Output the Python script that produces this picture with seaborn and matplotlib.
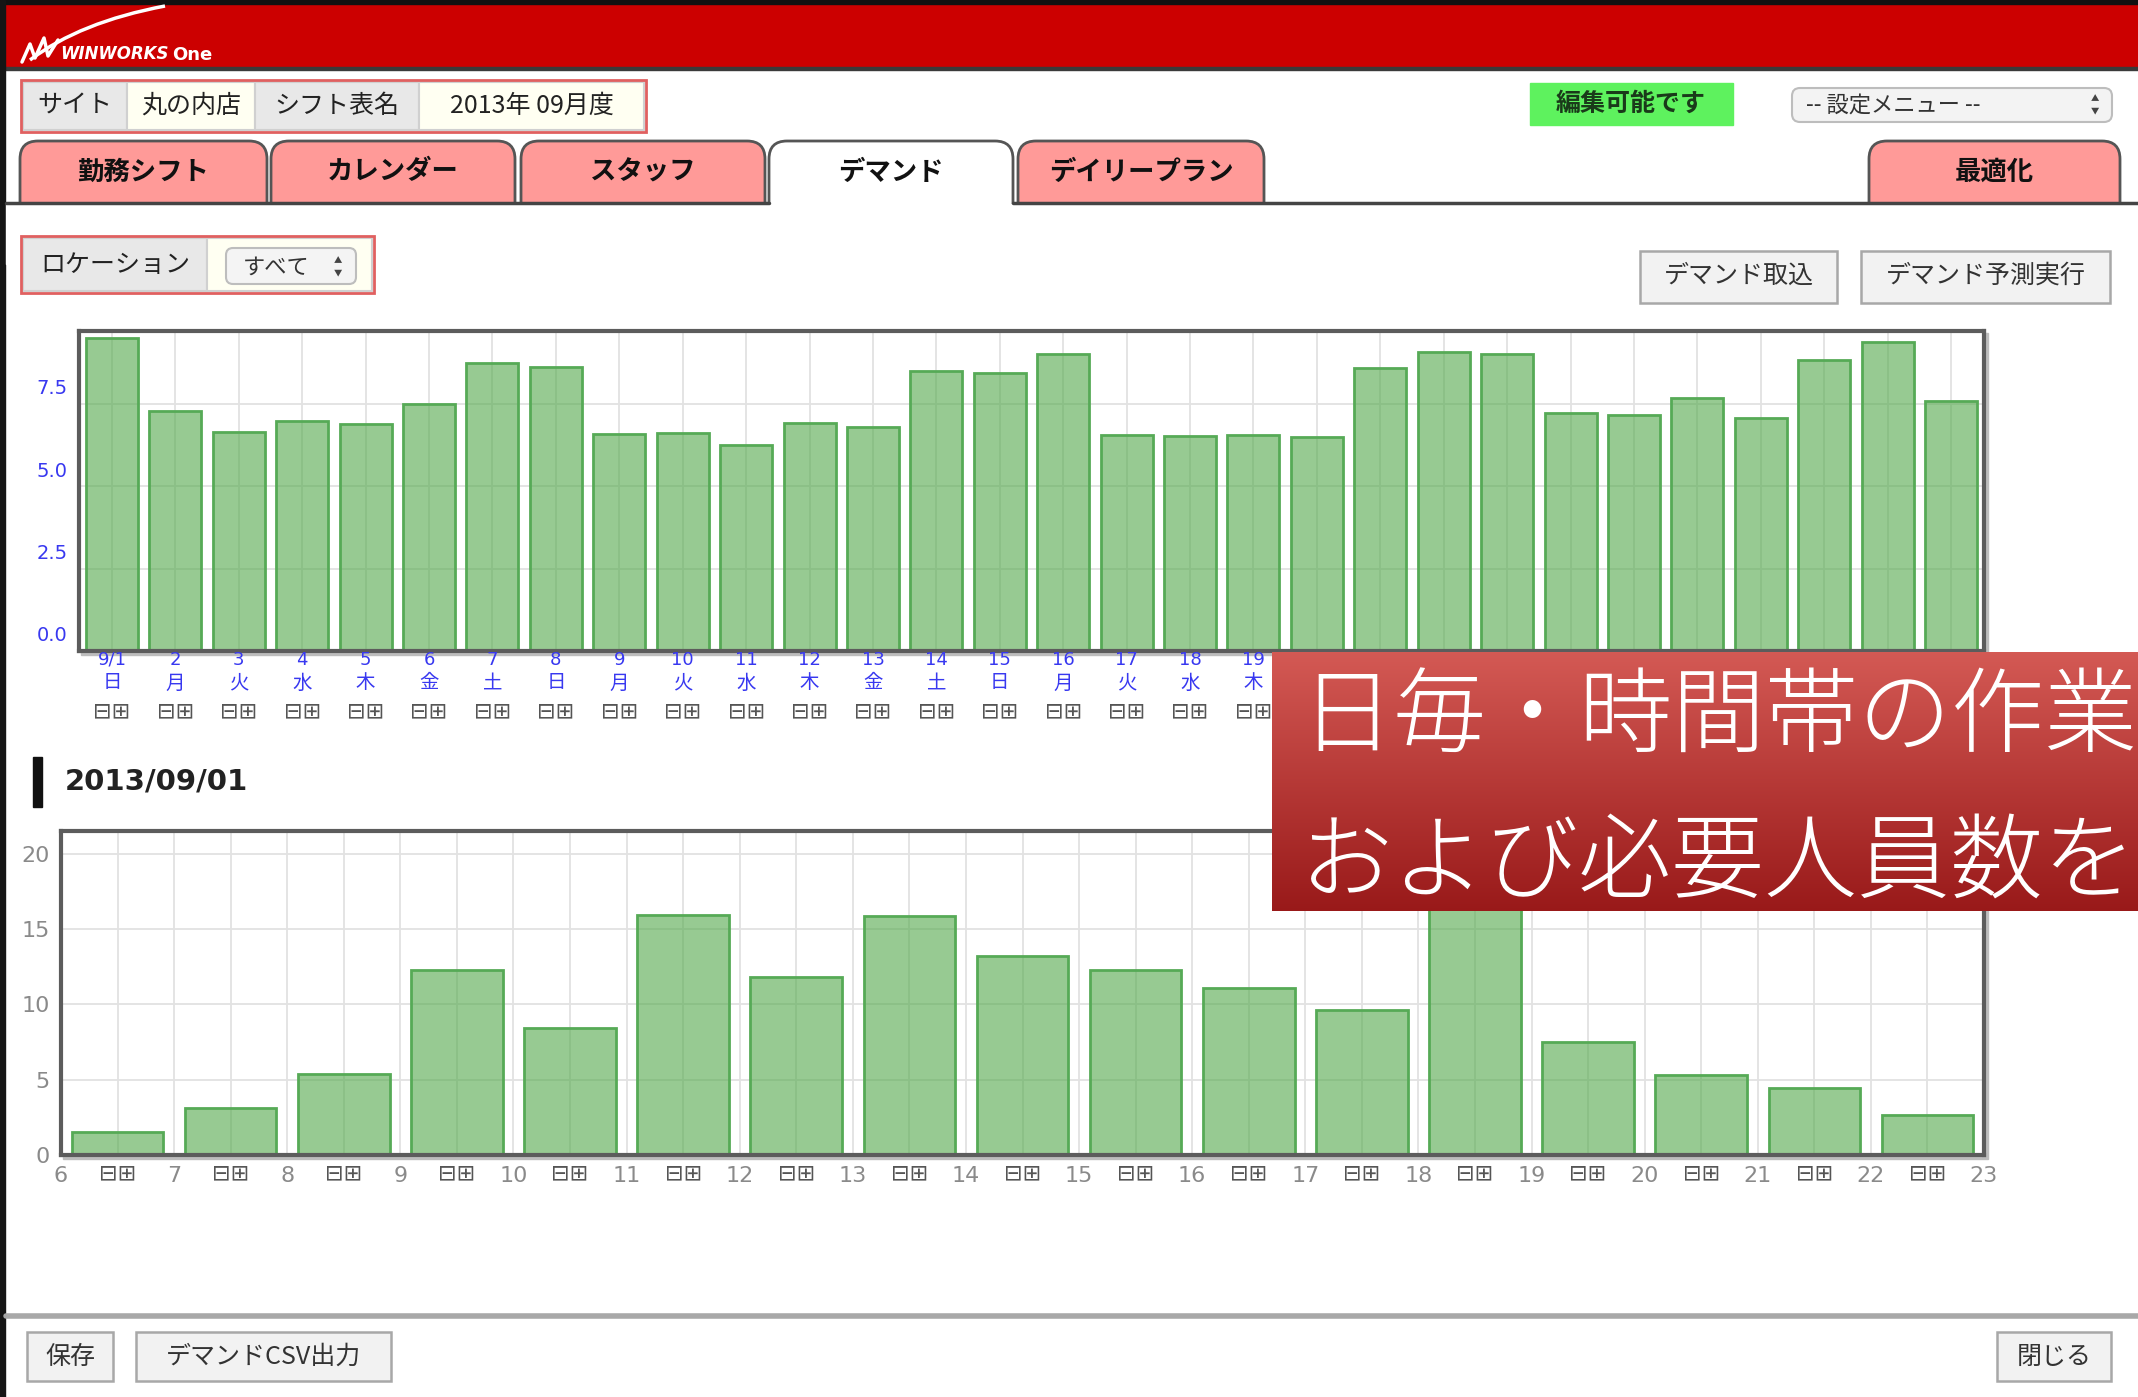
import numpy as np
import pandas as pd
import matplotlib
matplotlib.use("Agg")
import matplotlib.pyplot as plt
import matplotlib.patches as mpatches
import matplotlib.transforms as mtransforms
from matplotlib.path import Path
import seaborn as sns

# daily demand for September 2013
day_labels = ["9/1", "2", "3", "4", "5", "6", "7", "8", "9", "10",
              "11", "12", "13", "14", "15", "16", "17", "18", "19", "20",
              "21", "22", "23", "24", "25", "26", "27", "28", "29", "30"]
weekdays = ["日", "月", "火", "水", "木", "金", "土", "日", "月", "火",
            "水", "木", "金", "土", "日", "月", "火", "水", "木", "金",
            "土", "日", "月", "火", "水", "木", "金", "土", "日", "月"]
daily_demand = [9.5, 7.27, 6.63, 6.97, 6.87, 7.48, 8.72, 8.6, 6.57, 6.6,
                6.24, 6.9, 6.79, 8.48, 8.42, 9.0, 6.55, 6.52, 6.55, 6.48,
                8.58, 9.06, 9.0, 7.2, 7.15, 7.67, 7.06, 8.82, 9.36, 7.58]
daily_ticks = [0, 2.5, 5, 7.5]

# hourly demand for 2013/09/01 (slot starting at each hour)
hours = [6, 7, 8, 9, 10, 11, 12, 13, 14, 15, 16, 17, 18, 19, 20, 21, 22, 23]
hourly_demand = [1.5, 3.1, 5.4, 12.3, 8.4, 15.9, 11.8, 15.85, 13.2,
                 12.25, 11.1, 9.6, 17.0, 7.5, 5.3, 4.45, 2.65]
hourly_ticks = [0, 5, 10, 15, 20]

caption_lines = ["日毎・時間帯の作業", "および必要人員数を"]

W, H = 2138, 1397
BAR_FACE = (0.32, 0.66, 0.29, 0.6)
BAR_EDGE = "#56aa56"
BLUE = "#3838f0"

sns.set_theme(style="white")
plt.rcParams["font.family"] = ["Noto Sans CJK JP", "DejaVu Sans"]

fig = plt.figure(figsize=(W / 100, H / 100), dpi=100)
fig.patch.set_facecolor("white")


def px_axes(x0, y0, x1, y1, z=1):
    return fig.add_axes([x0 / W, 1 - y1 / H, (x1 - x0) / W, (y1 - y0) / H], zorder=z)


def pixel_layer(z):
    a = fig.add_axes([0, 0, 1, 1], zorder=z)
    a.set_xlim(0, W)
    a.set_ylim(H, 0)
    a.axis("off")
    a.patch.set_alpha(0)
    return a


bg = pixel_layer(0)

# page chrome
bg.add_patch(mpatches.Rectangle((0, 0), W, 68, color="#cc0000"))
bg.add_patch(mpatches.Rectangle((0, 0), W, 4, color="#111111"))
bg.add_patch(mpatches.Rectangle((0, 67), W, 3, color="#3a3a3a"))
bg.add_patch(mpatches.Rectangle((0, 0), 5, H, color="#151515"))

# logo
swoosh = Path([(30, 60), (80, 22), (165, 6)], [Path.MOVETO, Path.CURVE3, Path.CURVE3])
bg.add_patch(mpatches.PathPatch(swoosh, fc="none", ec="white", lw=2.5))
bg.plot([22, 30, 35, 44, 48, 58], [62, 44, 58, 38, 56, 40], color="white", lw=2.5)
bg.text(60, 54, "WINWORKS", color="white", fontsize=12, fontweight="bold",
        style="italic", family=["DejaVu Sans"], va="center")
bg.text(172, 55, "One", color="white", fontsize=13, fontweight="bold",
        family=["DejaVu Sans"], va="center")

# site / shift info row
info_cells = [("サイト", 23, 127, "#e8e8e8"), ("丸の内店", 127, 255, "#fffff2"),
              ("シフト表名", 255, 419, "#e8e8e8"), ("2013年 09月度", 419, 644, "#fffff2")]
for label, x0, x1, fc in info_cells:
    bg.add_patch(mpatches.Rectangle((x0, 82), x1 - x0, 48, fc=fc, ec="#d0d0d0", lw=1.5))
    bg.text((x0 + x1) / 2, 106, label, ha="center", va="center", fontsize=18, color="#222222")
bg.add_patch(mpatches.Rectangle((21, 80), 625, 52, fc="none", ec="#e06060", lw=2))

bg.add_patch(mpatches.Rectangle((1530, 83), 203, 42, color="#5ef25e"))
bg.text(1631, 104, "編集可能です", ha="center", va="center", fontsize=18,
        fontweight="bold", color="#1a3a1a")

bg.add_patch(mpatches.FancyBboxPatch((1792, 88), 320, 34, boxstyle="round,pad=0,rounding_size=8",
                                     fc="#f3f3f3", ec="#bdbdbd", lw=1.5))
bg.text(1806, 105, "-- 設定メニュー --", va="center", fontsize=16, color="#333333")
bg.text(2095, 99, "▲", ha="center", va="center", fontsize=6, color="#444444")
bg.text(2095, 111, "▼", ha="center", va="center", fontsize=6, color="#444444")

# tabs
tabs = [("勤務シフト", 20, 267), ("カレンダー", 271, 515), ("スタッフ", 521, 765),
        ("デマンド", 769, 1013), ("デイリープラン", 1018, 1264), ("最適化", 1869, 2120)]
for label, x0, x1 in tabs:
    active = label == "デマンド"
    bg.add_patch(mpatches.FancyBboxPatch((x0, 141), x1 - x0, 90,
                                         boxstyle="round,pad=0,rounding_size=18",
                                         fc="white" if active else "#ff9a98", ec="#555555", lw=2))
    bg.text((x0 + x1) / 2, 172, label, ha="center", va="center", fontsize=19,
            fontweight="bold", color="#111111")
bg.add_patch(mpatches.Rectangle((6, 204), W, 60, color="white", zorder=3))
bg.plot([6, 769], [203, 203], color="#444444", lw=2.5, zorder=4)
bg.plot([1013, W], [203, 203], color="#444444", lw=2.5, zorder=4)

# location selector
bg.add_patch(mpatches.Rectangle((23, 238), 184, 53, fc="#e8e8e8", ec="#d0d0d0", lw=1.5, zorder=4))
bg.add_patch(mpatches.Rectangle((207, 238), 165, 53, fc="#fffff2", ec="#d0d0d0", lw=1.5, zorder=4))
bg.add_patch(mpatches.Rectangle((21, 236), 353, 57, fc="none", ec="#e06060", lw=2, zorder=4))
bg.text(115, 265, "ロケーション", ha="center", va="center", fontsize=18, color="#222222", zorder=5)
bg.add_patch(mpatches.FancyBboxPatch((226, 248), 130, 36, boxstyle="round,pad=0,rounding_size=7",
                                     fc="#f4f4f4", ec="#bdbdbd", lw=1.5, zorder=5))
bg.text(243, 267, "すべて", va="center", fontsize=16, color="#333333", zorder=6)
bg.text(338, 261, "▲", ha="center", va="center", fontsize=6, color="#444444", zorder=6)
bg.text(338, 273, "▼", ha="center", va="center", fontsize=6, color="#444444", zorder=6)

for label, x0, x1 in [("デマンド取込", 1640, 1837), ("デマンド予測実行", 1861, 2110)]:
    bg.add_patch(mpatches.Rectangle((x0, 251), x1 - x0, 52, fc="#f2f2f2", ec="#a8a8a8", lw=1.8, zorder=4))
    bg.text((x0 + x1) / 2, 276, label, ha="center", va="center", fontsize=18, color="#333333", zorder=5)

# frame shadows
bg.add_patch(mpatches.Rectangle((81, 333), 1907, 322, color="#bdbdbd", zorder=4))
bg.add_patch(mpatches.Rectangle((63, 833), 1925, 326, color="#bdbdbd", zorder=4))

# date heading
bg.add_patch(mpatches.Rectangle((33, 757), 9, 50, color="#111111", zorder=4))
bg.text(65, 781, "2013/09/01", va="center", fontsize=21, fontweight="bold",
        family=["DejaVu Sans"], color="#222222", zorder=5)

# footer
bg.plot([6, W], [1316, 1316], color="#a8a8a8", lw=4, zorder=4)
for label, x0, x1 in [("保存", 27, 113), ("デマンドCSV出力", 136, 391), ("閉じる", 1997, 2111)]:
    bg.add_patch(mpatches.Rectangle((x0, 1332), x1 - x0, 49, fc="#f2f2f2", ec="#a8a8a8", lw=1.8, zorder=4))
    bg.text((x0 + x1) / 2, 1357, label, ha="center", va="center", fontsize=18, color="#333333", zorder=5)


def style_bars(ax):
    for p in ax.patches:
        p.set_facecolor(BAR_FACE)
        p.set_edgecolor(BAR_EDGE)
        p.set_linewidth(2)


def below(ax, dy_px):
    return (mtransforms.blended_transform_factory(ax.transData, ax.transAxes)
            + mtransforms.ScaledTranslation(0, -dy_px / 100, fig.dpi_scale_trans))


# monthly (daily) demand chart
ax1 = px_axes(79, 331, 1984, 651, z=2)
df_day = pd.DataFrame({"day": day_labels, "demand": daily_demand})
sns.barplot(data=df_day, x="day", y="demand", color="#52a849", saturation=1,
            width=0.82, ax=ax1)
style_bars(ax1)
ax1.set_xlim(-0.52, len(day_labels) - 0.48)
ax1.set_ylim(0, 9.7)
ax1.set_axisbelow(True)
ax1.grid(True, color="#e2e2e2", lw=1.3)
ax1.set_yticks(daily_ticks)
ax1.set_yticklabels([])
# value labels sit a little above their grid lines
ylab_tr = (mtransforms.blended_transform_factory(ax1.transAxes, ax1.transData)
           + mtransforms.ScaledTranslation(-0.11, 0.15, fig.dpi_scale_trans))
for v in daily_ticks:
    ax1.text(0, v, f"{v:.1f}", transform=ylab_tr, ha="right", va="center",
             fontsize=14, color=BLUE, family=["DejaVu Sans"], clip_on=False)
ax1.set_xticks(range(len(day_labels)))
ax1.set_xticklabels([])
for i, (d, w) in enumerate(zip(day_labels, weekdays)):
    ax1.text(i, 0, d, transform=below(ax1, 9), ha="center", va="center",
             fontsize=13, color=BLUE, family=["DejaVu Sans"], clip_on=False)
    ax1.text(i, 0, w, transform=below(ax1, 32), ha="center", va="center",
             fontsize=14, color=BLUE, clip_on=False)
    ax1.text(i, 0, "⊟⊞", transform=below(ax1, 60), ha="center", va="center",
             fontsize=16, color="#555555", family=["DejaVu Sans"], clip_on=False)
ax1.tick_params(length=0, pad=9)
ax1.set_xlabel("")
ax1.set_ylabel("")
for s in ax1.spines.values():
    s.set_color("#5c5c5c")
    s.set_linewidth(3)

# hourly demand chart
ax2 = px_axes(61, 831, 1984, 1155, z=2)
df_hour = pd.DataFrame({"slot": [str(h) for h in hours[:-1]], "demand": hourly_demand})
sns.barplot(data=df_hour, x="slot", y="demand", color="#52a849", saturation=1,
            width=0.81, ax=ax2)
style_bars(ax2)
n_slots = len(hourly_demand)
ax2.set_xlim(-0.5, n_slots - 0.5)
ax2.set_ylim(0, 21.5)
ax2.set_axisbelow(True)
ax2.set_xticks(np.arange(len(hours)) - 0.5)
ax2.set_xticklabels([str(h) for h in hours], color="#8a8a8a", fontsize=16,
                    family=["DejaVu Sans"])
ax2.set_xticks(np.arange(n_slots), minor=True)
ax2.grid(True, which="both", axis="x", color="#e2e2e2", lw=1.3)
ax2.grid(True, which="major", axis="y", color="#e2e2e2", lw=1.3)
ax2.set_yticks(hourly_ticks)
ax2.set_yticklabels([str(v) for v in hourly_ticks], color="#8a8a8a", fontsize=16,
                    family=["DejaVu Sans"])
for i in range(n_slots):
    ax2.text(i, 0, "⊟⊞", transform=below(ax2, 18), ha="center", va="center",
             fontsize=16, color="#555555", family=["DejaVu Sans"], clip_on=False)
ax2.tick_params(which="both", length=0, pad=8)
ax2.set_xlabel("")
ax2.set_ylabel("")
for s in ax2.spines.values():
    s.set_color("#5c5c5c")
    s.set_linewidth(3)

# red caption overlay
ov = pixel_layer(5)
grad = np.linspace(0, 1, 256)[:, None, None]
top_c = np.array([0.83, 0.35, 0.33])
bot_c = np.array([0.60, 0.10, 0.10])
ov.imshow(top_c + (bot_c - top_c) * grad, extent=(1272, W, 911, 652), aspect="auto",
          origin="upper", interpolation="bilinear")
ov.set_xlim(0, W)
ov.set_ylim(H, 0)
ov.text(1300, 719, caption_lines[0], color="white", fontsize=67, fontweight="light",
        va="center", ha="left")
ov.text(1300, 864, caption_lines[1], color="white", fontsize=67, fontweight="light",
        va="center", ha="left")

fig.savefig("out.png", dpi=100)
